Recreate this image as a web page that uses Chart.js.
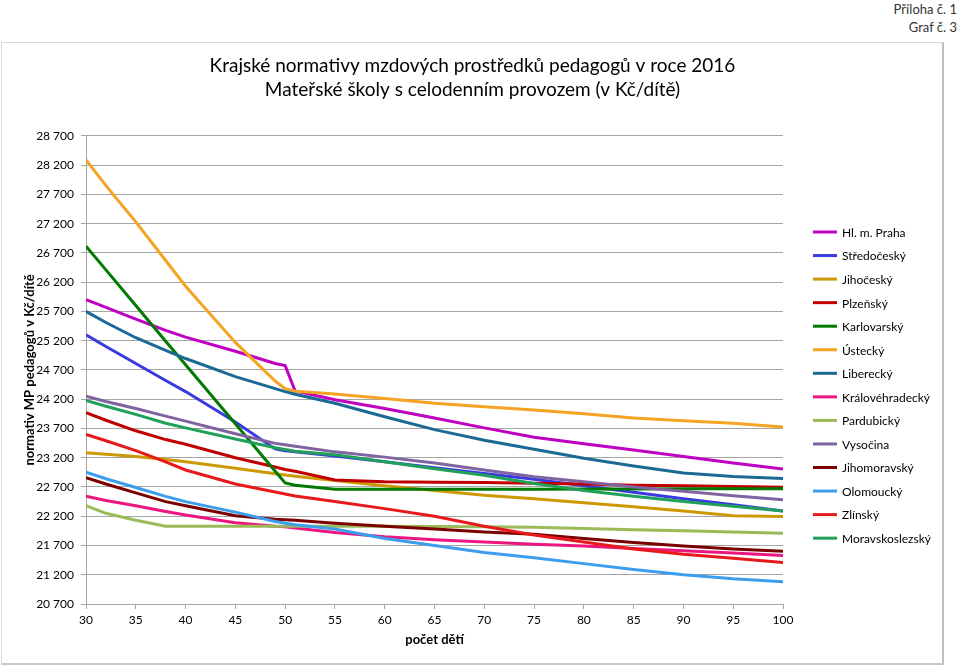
<!DOCTYPE html>
<html lang="cs">
<head>
<meta charset="utf-8">
<script src="https://cdn.jsdelivr.net/npm/chart.js@4.4.0/dist/chart.umd.min.js"></script>
<style>
  html, body { margin: 0; padding: 0; background: #fff; }
  body { width: 959px; height: 668px; position: relative; overflow: hidden; font-family: Lato, sans-serif; }
  #note { position: absolute; right: 2px; top: 0; text-align: right; font-size: 13px; line-height: 18px; color: #333; }
  #frame { position: absolute; left: 1px; top: 42px; width: 940px; height: 620px; border: 1px solid #d9d9d9; border-right: 2px solid #bfbfbf; border-bottom: 2px solid #c8c8c8; }
  #chart { position: absolute; left: 0; top: 0; }
</style>
</head>
<body>
<div id="note">Příloha č. 1<br>Graf č. 3</div>
<div id="frame"></div>
<canvas id="chart" width="959" height="668"></canvas>
<script>
const xValues = [30, 32, 35, 38, 40, 45, 49, 50, 51, 55, 60, 65, 70, 75, 80, 85, 90, 95, 100]
const yTicks = [20700, 21200, 21700, 22200, 22700, 23200, 23700, 24200, 24700, 25200, 25700, 26200, 26700, 27200, 27700, 28200, 28700]

const regions = ['Hl. m. Praha', 'Středočeský', 'Jihočeský', 'Plzeňský', 'Karlovarský', 'Ústecký', 'Liberecký',
  'Královéhradecký', 'Pardubický', 'Vysočina', 'Jihomoravský', 'Olomoucký', 'Zlínský', 'Moravskoslezský']
const colors = ['#c000c0', '#3a3ae0', '#cc9900', '#c00000', '#007a00', '#f4a322', '#1b6a96',
  '#ec1680', '#9bbb59', '#8064a2', '#7b0000', '#3c9ded', '#e8191b', '#20a05a']

const praha = [25900, 25770, 25570, 25375, 25260, 25020, 24810, 24775, 24340, 24190, 24040, 23880, 23710, 23550, 23440, 23330, 23220, 23110, 23005]
const stredocesky = [25300, 25100, 24810, 24520, 24330, 23810, 23350, 23320, 23300, 23230, 23130, 23030, 22930, 22830, 22720, 22610, 22500, 22395, 22290]
const jihocesky = [23285, 23260, 23220, 23170, 23130, 23020, 22925, 22905, 22885, 22810, 22720, 22640, 22560, 22500, 22430, 22360, 22290, 22210, 22195]
const plzensky = [23970, 23840, 23660, 23510, 23430, 23200, 23040, 23000, 22970, 22820, 22790, 22780, 22775, 22765, 22750, 22730, 22720, 22710, 22695]
const karlovarsky = [26815, 26410, 25800, 25190, 24790, 23780, 22970, 22770, 22730, 22660, 22660, 22660, 22660, 22660, 22665, 22665, 22670, 22670, 22670]
const ustecky = [28290, 27850, 27230, 26570, 26130, 25170, 24510, 24380, 24335, 24290, 24210, 24130, 24070, 24015, 23950, 23880, 23830, 23790, 23725]
const liberecky = [25700, 25510, 25250, 25035, 24895, 24585, 24380, 24330, 24285, 24130, 23900, 23680, 23500, 23345, 23190, 23060, 22940, 22880, 22845]
const kralovehradecky = [22540, 22470, 22380, 22280, 22220, 22090, 22030, 22020, 22000, 21920, 21850, 21800, 21760, 21720, 21690, 21650, 21610, 21570, 21530]
const pardubicky = [22380, 22250, 22130, 22030, 22030, 22030, 22030, 22030, 22030, 22030, 22030, 22025, 22020, 22010, 21990, 21970, 21950, 21930, 21910]
const vysocina = [24250, 24160, 24040, 23910, 23825, 23610, 23445, 23420, 23395, 23300, 23210, 23110, 22990, 22875, 22790, 22700, 22625, 22550, 22480]
const jihomoravsky = [22860, 22750, 22600, 22450, 22380, 22210, 22150, 22140, 22130, 22080, 22030, 21980, 21930, 21890, 21820, 21750, 21690, 21640, 21600]
const olomoucky = [22955, 22840, 22690, 22540, 22450, 22270, 22110, 22080, 22055, 21980, 21820, 21700, 21580, 21490, 21390, 21290, 21200, 21130, 21080]
const zlinsky = [23600, 23490, 23320, 23130, 22990, 22750, 22615, 22580, 22545, 22450, 22330, 22200, 22030, 21880, 21760, 21640, 21550, 21480, 21410]
const moravskoslezsky = [24180, 24080, 23940, 23790, 23710, 23520, 23370, 23340, 23310, 23250, 23130, 23010, 22900, 22760, 22640, 22540, 22450, 22370, 22290]

const series = [praha, stredocesky, jihocesky, plzensky, karlovarsky, ustecky, liberecky,
  kralovehradecky, pardubicky, vysocina, jihomoravsky, olomoucky, zlinsky, moravskoslezsky]

const fontFamily = 'Lato, sans-serif'
const spaced = v => String(v).replace(/\B(?=(\d{3})+(?!\d))/g, ' ')

// legend drawn by hand in the space kept free on the right
const sideLegend = {
  id: 'sideLegend',
  afterDraw(chart) {
    const ctx = chart.ctx
    const left = chart.chartArea.right + 30
    ctx.save()
    ctx.font = '12px ' + fontFamily
    ctx.textBaseline = 'middle'
    ctx.fillStyle = '#000'
    chart.data.datasets.forEach((ds, i) => {
      const y = 232 + i * 23.55
      ctx.strokeStyle = ds.borderColor
      ctx.lineWidth = 3
      ctx.beginPath()
      ctx.moveTo(left, y)
      ctx.lineTo(left + 24, y)
      ctx.stroke()
      ctx.fillText(ds.label, left + 29, y + 1)
    })
    ctx.restore()
  }
}

const ctx = document.querySelector('#chart').getContext('2d')
const myChart = new Chart(ctx, {
  type: 'line',
  data: {
    datasets: series.map((values, i) => ({
      label: regions[i],
      data: values.map((v, j) => ({ x: xValues[j], y: v })),
      borderColor: colors[i],
      backgroundColor: colors[i],
      borderWidth: 3,
      pointRadius: 0,
      tension: 0,
      order: regions.length - i
    }))
  },
  options: {
    responsive: false,
    animation: false,
    layout: { padding: { left: 0, right: 14, top: 0, bottom: 0 } },
    plugins: {
      legend: { display: false },
      tooltip: { enabled: false },
      title: {
        display: true,
        text: ['Krajské normativy mzdových prostředků pedagogů v roce 2016', 'Mateřské školy s celodenním provozem (v Kč/dítě)'],
        color: '#000',
        font: { family: fontFamily, size: 19, weight: 'normal', lineHeight: 1.26 },
        padding: { top: 54, bottom: 34 }
      }
    },
    scales: {
      x: {
        type: 'linear',
        min: 30,
        max: 100,
        ticks: { stepSize: 5, color: '#000', font: { family: fontFamily, size: 12 }, padding: 4, maxRotation: 0 },
        grid: { drawOnChartArea: false, drawTicks: true, tickLength: 5, color: '#a6a6a6' },
        border: { color: '#a6a6a6' },
        title: { display: true, text: 'počet dětí', color: '#000', font: { family: fontFamily, size: 13, weight: 'bold' }, padding: { top: 0, bottom: 20 } },
        afterFit: s => { s.height = 64 }
      },
      y: {
        min: 20700,
        max: 28700,
        afterBuildTicks: s => { s.ticks = yTicks.map(v => ({ value: v })) },
        ticks: { color: '#000', font: { family: fontFamily, size: 12 }, padding: 7, callback: v => spaced(v) },
        grid: { color: '#a6a6a6', tickLength: 5 },
        border: { color: '#a6a6a6' },
        title: { display: true, text: 'normativ MP pedagogů v Kč/dítě', color: '#000', font: { family: fontFamily, size: 13, weight: 'bold' }, padding: { top: 22, bottom: 0 } },
        afterFit: s => { s.width = 86 }
      },
      side: {
        position: 'right',
        display: true,
        ticks: { display: false },
        grid: { display: false, drawTicks: false },
        border: { display: false },
        afterFit: s => { s.width = 162 }
      }
    }
  },
  plugins: [sideLegend]
})
</script>
</body>
</html>
